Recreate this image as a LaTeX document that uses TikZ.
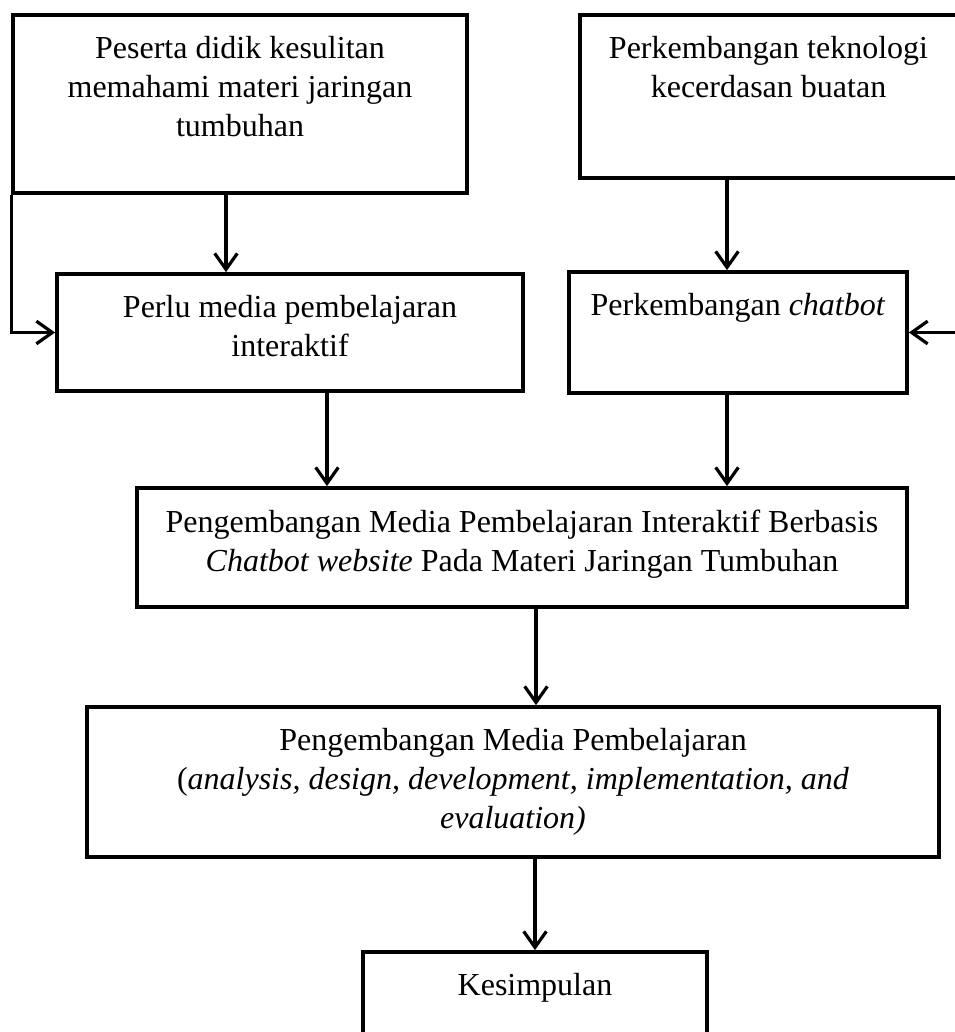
\documentclass[tikz,border=0pt]{standalone}
\usepackage{fontspec}
\setmainfont{Liberation Serif}
\usetikzlibrary{arrows.meta,positioning,calc,fit}

\tikzset{
  box/.style={draw, rectangle, line width=1.4pt, inner sep=0pt},
  txt/.style={align=center, inner sep=0pt, font=\fontsize{12}{14.6}\selectfont},
  arr/.style={line width=1.2pt, -{Straight Barb[length=6pt, width=8.5pt]}}
}

\begin{document}
\begin{tikzpicture}[x=0.375pt, y=-0.375pt]
    \useasboundingbox (0,0) rectangle (954,1032);

    % Boxes
    \node[box, fit={(13,15) (467,193)}] (masalah) {};
    \node[box, fit={(580,15) (957,178)}] (tekno) {};
    \node[box, fit={(57,274) (523,391)}] (perlu) {};
    \node[box, fit={(569,272) (907,393)}] (chatbot) {};
    \node[box, fit={(137,488) (907,607)}] (dev) {};
    \node[box, fit={(87,707) (939,857)}] (addie) {};
    \node[box, fit={(363,952) (707,1060)}] (simpul) {};

    % Texts
    \node[txt, below=8.6pt of masalah.north] (masalahtxt) {Peserta didik kesulitan\\memahami materi jaringan\\tumbuhan};
    \node[txt, below=8.6pt of tekno.north] (teknotxt) {Perkembangan teknologi\\kecerdasan buatan};
    \node[txt, below=8.6pt of perlu.north] (perlutxt) {Perlu media pembelajaran\\interaktif};
    \node[txt, below=8.6pt of chatbot.north] (chatbottxt) {Perkembangan \textit{chatbot}};
    \node[txt, below=8.6pt of dev.north] (devtxt) {Pengembangan Media Pembelajaran Interaktif Berbasis\\\textit{Chatbot website} Pada Materi Jaringan Tumbuhan};
    \node[txt, below=8.6pt of addie.north] (addietxt) {Pengembangan Media Pembelajaran\\(\textit{analysis, design, development, implementation, and}\\\textit{evaluation)}};
    \node[txt, below=8.6pt of simpul.north] (simpultxt) {Kesimpulan};

    % Arrow columns
    \coordinate (k1) at (226,0);
    \coordinate (k2) at (727,0);
    \coordinate (k3) at (327,0);
    \coordinate (k4) at (536,0);

    % Arrows
    \draw[arr] (masalah.south -| k1) -- (perlu.north -| k1);
    \draw[arr] (masalah.south west) |- (perlu.west);
    \draw[arr] (tekno.south -| k2) -- (chatbot.north -| k2);
    \draw[arr] (tekno.south east) |- (chatbot.east);
    \draw[arr] (perlu.south -| k3) -- (dev.north -| k3);
    \draw[arr] (chatbot.south -| k2) -- (dev.north -| k2);
    \draw[arr] (dev.south -| k4) -- (addie.north -| k4);
    \draw[arr] (addie.south -| simpul.north) -- (simpul.north);
\end{tikzpicture}
\end{document}
